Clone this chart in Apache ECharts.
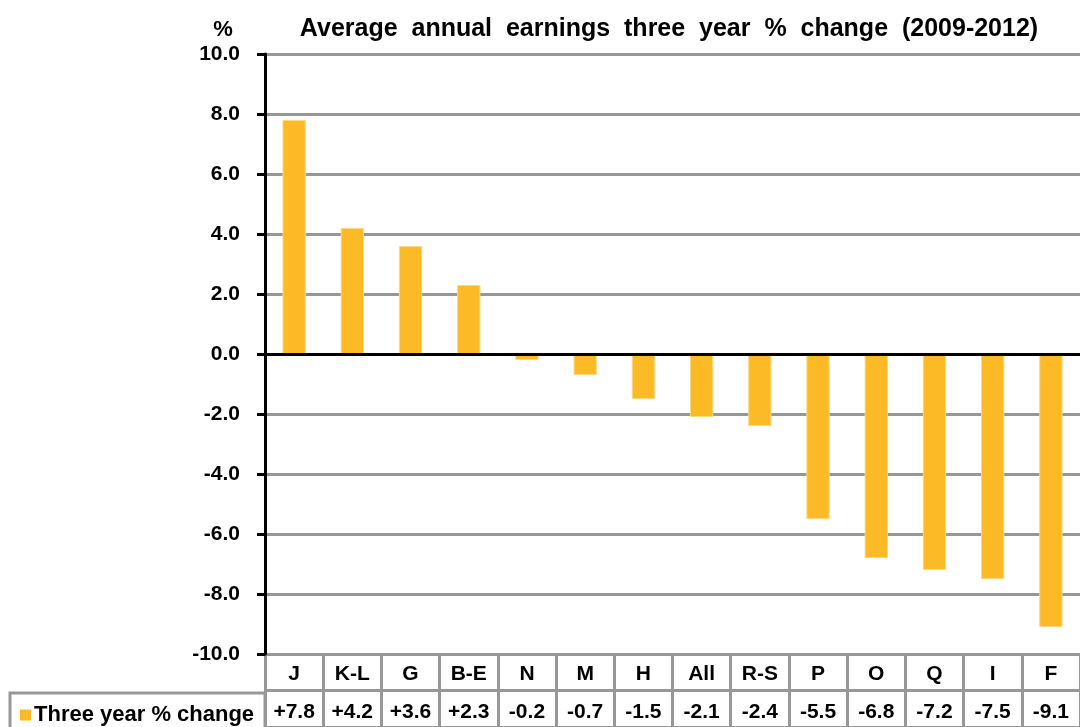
<!DOCTYPE html>
<html>
<head>
<meta charset="utf-8">
<script src="https://cdn.jsdelivr.net/npm/echarts@6/dist/echarts.min.js"></script>
<style>html,body{margin:0;padding:0;background:#fff;}#c{width:1080px;height:727px;}</style>
</head>
<body>
<div id="c"></div>
<script>
const categories = ['J','K-L','G','B-E','N','M','H','All','R-S','P','O','Q','I','F'];
const values = [7.8, 4.2, 3.6, 2.3, -0.2, -0.7, -1.5, -2.1, -2.4, -5.5, -6.8, -7.2, -7.5, -9.1];
const seriesName = 'Three year % change';
const titleText = 'Average  annual  earnings  three  year  %  change  (2009-2012)';
const yMin = -10, yMax = 10, yStep = 2;

const valueLabels = values.map(v => (v > 0 ? '+' : '') + v.toFixed(1));
const FONT = '"Liberation Sans", Arial, sans-serif';
const GRID = '#979797';
const BAR = '#FBBA26';

const chart = echarts.init(document.getElementById('c'), null, {renderer: 'canvas'});
chart.setOption({
  animation: false,
  backgroundColor: '#fff',
  textStyle: {fontFamily: FONT},
  title: [
    {text: titleText, left: 664, top: 12, textAlign: 'center',
     textStyle: {fontFamily: FONT, fontSize: 25, fontWeight: 'bold', color: '#000'}},
    {text: '%', left: 218, top: 14, textAlign: 'center',
     textStyle: {fontFamily: FONT, fontSize: 22, fontWeight: 'bold', color: '#000'}}
  ],
  legend: {
    left: 15, top: 699, itemWidth: 11, itemHeight: 11, icon: 'rect', itemGap: 0,
    data: [{name: seriesName, itemStyle: {color: BAR, borderWidth: 0}}],
    textStyle: {fontFamily: FONT, fontSize: 22, fontWeight: 'bold', color: '#000', padding: [0,0,0,-2]}
  },
  grid: [
    {left: 265, right: 0, top: 54, height: 600},
    {left: 265, right: 0, top: 654, height: 78}
  ],
  xAxis: [
    {type: 'category', gridIndex: 0, data: categories, position: 'bottom',
     axisLine: {show: false}, axisTick: {show: false}, splitLine: {show: false},
     axisLabel: {interval: 0, margin: 10, fontFamily: FONT, fontSize: 21, fontWeight: 'bold', color: '#000'}},
    {type: 'category', gridIndex: 0, data: valueLabels, position: 'bottom', offset: 0,
     axisLine: {show: false}, axisTick: {show: false}, splitLine: {show: false},
     axisLabel: {interval: 0, margin: 48, fontFamily: FONT, fontSize: 21, fontWeight: 'bold', color: '#000'}},
    {type: 'category', gridIndex: 1, data: categories, boundaryGap: true,
     axisLine: {show: false}, axisTick: {show: false}, axisLabel: {show: false},
     splitLine: {show: true, interval: 0, lineStyle: {color: GRID, width: 3}}}
  ],
  yAxis: [
    {type: 'value', gridIndex: 0, min: yMin, max: yMax, interval: yStep,
     axisLine: {show: true, lineStyle: {color: '#000', width: 3}},
     axisTick: {show: true, length: 8, lineStyle: {color: '#000', width: 3}},
     splitLine: {show: true, lineStyle: {color: GRID, width: 3}},
     axisLabel: {margin: 25, formatter: v => v.toFixed(1), fontFamily: FONT, fontSize: 21, fontWeight: 'bold', color: '#000'}},
    {type: 'value', gridIndex: 1, min: 0, max: 2, interval: 1,
     axisLine: {show: false}, axisTick: {show: false}, axisLabel: {show: false},
     splitLine: {show: true, lineStyle: {color: GRID, width: 3}}}
  ],
  graphic: [
    {type: 'rect', shape: {x: 10, y: 693, width: 255, height: 40},
     style: {fill: 'none', stroke: GRID, lineWidth: 3}, z: 10}
  ],
  series: [
    {name: seriesName, type: 'bar', xAxisIndex: 0, yAxisIndex: 0, data: values,
     barWidth: '40%', itemStyle: {color: BAR, borderColor: '#FCD97E', borderWidth: 1},
     markLine: {silent: true, symbol: 'none', label: {show: false},
       lineStyle: {color: '#000', width: 3, type: 'solid'},
       data: [{yAxis: 0}]}}
  ]
});
</script>
</body>
</html>
